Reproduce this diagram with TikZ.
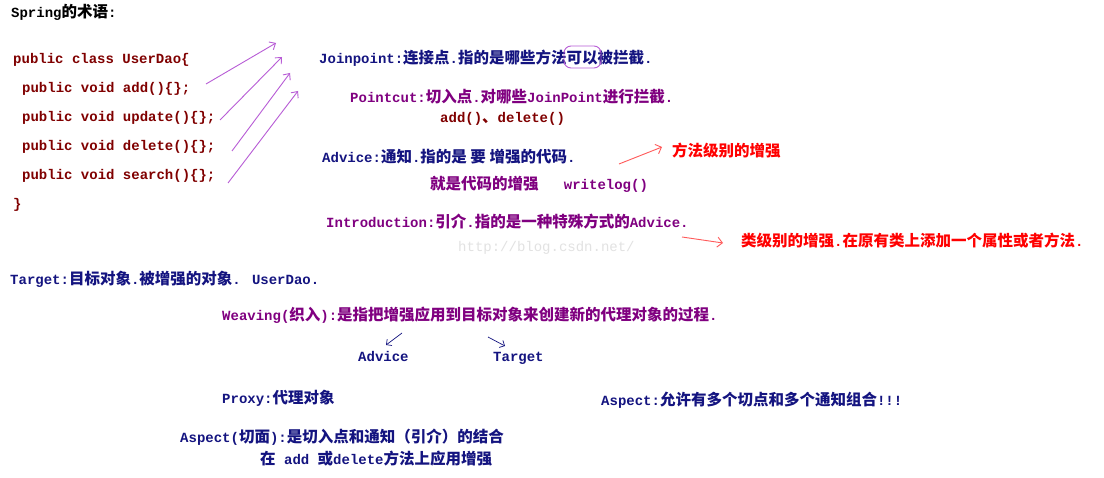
\documentclass[tikz,border=0pt]{standalone}
\usepackage{fontspec}
\setmainfont{Liberation Mono}
\newfontfamily\cjk{Noto Sans CJK SC}
\usepackage{xcolor}
\usetikzlibrary{arrows.meta,positioning}
\definecolor{notenavy}{HTML}{141480}
\definecolor{notepurple}{HTML}{800080}
\definecolor{codered}{HTML}{800000}
\definecolor{hotred}{HTML}{FF0000}
\definecolor{penviolet}{HTML}{B85CD6}
\definecolor{penred}{HTML}{FF5A5A}
\definecolor{wmgrey}{HTML}{E2E2E2}
\newcommand\zh[1]{{\cjk\fontsize{15.5}{18}\selectfont#1}}

\begin{document}
\begin{tikzpicture}[
  x=1pt, y=-1pt,
  font=\fontsize{14}{16}\selectfont\bfseries,
  txt/.style={anchor=west, inner sep=0pt},
  code/.style={txt, text=codered},
  term/.style={txt, text=notenavy},
  hint/.style={txt, text=notepurple},
  note/.style={txt, text=hotred},
  pen/.style={-{Straight Barb[length=5pt,width=9pt]}, line width=0.9pt, draw=penviolet},
  redpen/.style={-{Straight Barb[length=5pt,width=10pt]}, line width=0.9pt, draw=penred},
  tick/.style={-{Straight Barb[length=4pt,width=8pt]}, line width=0.7pt, draw=notenavy},
  hilite/.style={draw=penviolet, line width=0.9pt, rounded corners=7pt},
]
\useasboundingbox[fill=white] (0,0) rectangle (1104,478);
% ----- title and code -----
\node[txt] (spring) at (11,12) {Spring\zh{的术语}:};
\node[code] (cls)   at (13,60)  {public class UserDao\{};
\node[code] (madd)  at (22,89)  {public void add()\{\};};
\node[code] (mupd)  at (22,118) {public void update()\{\};};
\node[code] (mdel)  at (22,147) {public void delete()\{\};};
\node[code] (msrch) at (22,176) {public void search()\{\};};
\node[code] (close) at (13,205) {\}};
% ----- terms -----
\node[term] (jp)    at (319,58)  {Joinpoint:\zh{连接点}.\zh{指的是哪些方法可以被拦截}.};
\node[hint] (pc)    at (350,97)  {Pointcut:\zh{切入点}.\zh{对哪些}JoinPoint\zh{进行拦截}.};
\node[code] (pcex)  at (440,119) {add()\zh{、}delete()};
\node[term] (adv)   at (322,157) {Advice:\zh{通知}.\zh{指的是 要 增强的代码}.};
\node[hint] (advex) at (430,184) {\zh{就是代码的增强}\ \ \ writelog()};
\node[hint] (intro) at (326,222) {Introduction:\zh{引介}.\zh{指的是一种特殊方式的}Advice.};
\node[note] (mlvl)  at (672,151) {\zh{方法级别的增强}};
\node[note] (clvl)  at (741,241) {\zh{类级别的增强}.\zh{在原有类上添加一个属性或者方法}.};
\node[txt, text=wmgrey, font=\fontsize{14}{16}\selectfont] (wm) at (458,248) {http://blog.csdn.net/};
\node[term] (tgt)   at (10,279)  {Target:\zh{目标对象}.\zh{被增强的对象}. UserDao.};
\node[hint] (weave) at (222,315) {Weaving(\zh{织入}):\zh{是指把增强应用到目标对象来创建新的代理对象的过程}.};
\node[term] (wadv)  at (358,356) {Advice};
\node[term] (wtgt)  at (493,358) {Target};
\node[term] (proxy) at (222,398) {Proxy:\zh{代理对象}};
\node[term] (aspall) at (601,400) {Aspect:\zh{允许有多个切点和多个通知组合}!!!};
\node[term] (asp)   at (180,437) {Aspect(\zh{切面}):\zh{是切入点和通知（引介）的结合}};
\node[term] (aspex) at (260,459) {\zh{在} add \zh{或}delete\zh{方法上应用增强}};
% ----- pen strokes -----
\coordinate (s1) at (206,84);  \coordinate (p1) at (276,43);
\coordinate (s2) at (220,120); \coordinate (p2) at (282,57);
\coordinate (s3) at (232,151); \coordinate (p3) at (290,73);
\coordinate (s4) at (228,183); \coordinate (p4) at (298,91);
\foreach \i in {1,...,4} \draw[pen] (s\i) -- (p\i);
\draw[hilite] (564,46) rectangle (601,68);
\coordinate (r1) at (619,164);
\coordinate (r2) at (682,237);
\draw[redpen] (r1) -- ([shift={(-10,-4)}]mlvl.west);
\draw[redpen] (r2) -- ([shift={(-18,2)}]clvl.west);
\coordinate (w1) at (402,333); \coordinate (w1e) at (386,345);
\coordinate (w2) at (488,337); \coordinate (w2e) at (505,346);
\draw[tick] (w1) -- (w1e);
\draw[tick] (w2) -- (w2e);
\end{tikzpicture}
\end{document}
